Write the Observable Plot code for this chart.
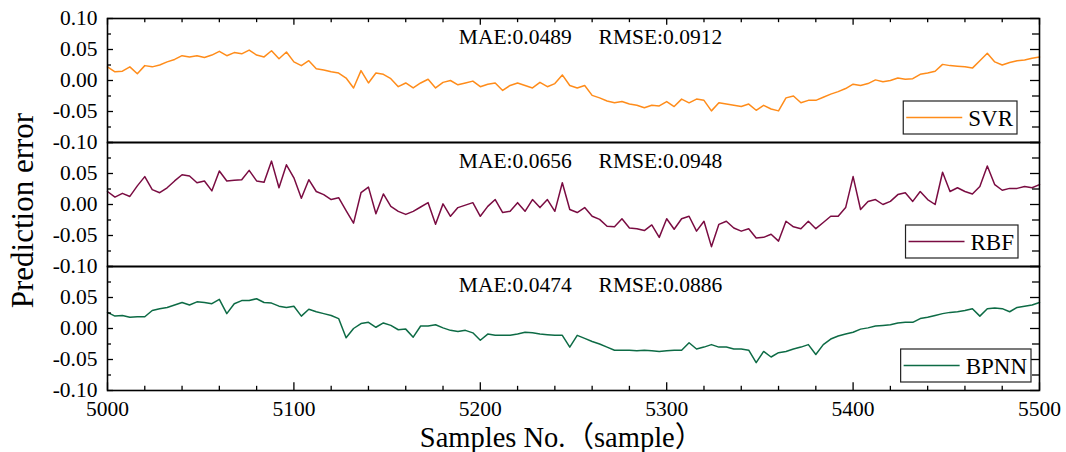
<!DOCTYPE html>
<html><head><meta charset="utf-8">
<script src="https://cdn.jsdelivr.net/npm/d3@7"></script>
<script src="https://cdn.jsdelivr.net/npm/@observablehq/plot@0.6"></script>
<style>
html,body{margin:0;padding:0;background:#fff;}
#chart{width:1066px;height:452px;overflow:hidden;}
</style></head><body><div id="chart"></div>
<script>
// ---------- data ----------
const models = ["SVR", "RBF", "BPNN"];
const colors = ["#ff8c1a", "#7a0c42", "#0d6b45"];
const maeValues = ["0.0489", "0.0656", "0.0474"];
const rmseValues = ["0.0912", "0.0948", "0.0886"];
const sampleStart = 5000;
const sampleStep = 4;

const svrErrors = [
  0.022, 0.014, 0.015, 0.022, 0.011, 0.024, 0.022, 0.025, 0.030, 0.034,
  0.040, 0.038, 0.040, 0.037, 0.041, 0.047, 0.040, 0.045, 0.043, 0.049,
  0.041, 0.038, 0.048, 0.035, 0.046, 0.030, 0.024, 0.032, 0.019, 0.017,
  0.014, 0.012, 0.004, -0.012, 0.016, -0.004, 0.012, 0.010, 0.003, -0.010,
  -0.004, -0.012, -0.004, 0.002, -0.012, -0.003, 0.000, -0.007, -0.004, -0.001,
  -0.010, -0.006, -0.004, -0.016, -0.008, -0.004, -0.008, -0.012, -0.003, -0.010,
  -0.005, 0.009, -0.008, -0.012, -0.008, -0.024, -0.028, -0.033, -0.036, -0.034,
  -0.038, -0.040, -0.044, -0.040, -0.041, -0.034, -0.042, -0.030, -0.036, -0.030,
  -0.032, -0.049, -0.036, -0.038, -0.040, -0.042, -0.038, -0.048, -0.040, -0.046,
  -0.049, -0.028, -0.025, -0.036, -0.032, -0.032, -0.027, -0.022, -0.018, -0.013,
  -0.006, -0.008, -0.005, 0.001, -0.002, 0.000, 0.004, 0.002, 0.003, 0.010,
  0.012, 0.015, 0.026, 0.024, 0.023, 0.022, 0.020, 0.032, 0.044, 0.030,
  0.025, 0.029, 0.032, 0.033, 0.036, 0.038
];
const rbfErrors = [
  0.021, 0.012, 0.018, 0.013, 0.030, 0.045, 0.024, 0.019, 0.027, 0.038,
  0.048, 0.046, 0.035, 0.038, 0.022, 0.054, 0.038, 0.039, 0.040, 0.055,
  0.038, 0.036, 0.070, 0.027, 0.064, 0.043, 0.010, 0.040, 0.021, 0.016,
  0.008, 0.011, -0.010, -0.030, 0.019, 0.028, -0.015, 0.017, -0.003, -0.011,
  -0.016, -0.011, -0.004, 0.003, -0.032, 0.001, -0.019, -0.005, -0.001, 0.003,
  -0.019, -0.003, 0.008, -0.013, -0.011, 0.003, -0.011, 0.008, -0.005, 0.008,
  -0.011, 0.035, -0.008, -0.013, -0.005, -0.019, -0.024, -0.035, -0.036, -0.023,
  -0.038, -0.039, -0.042, -0.033, -0.053, -0.023, -0.040, -0.023, -0.019, -0.043,
  -0.027, -0.068, -0.032, -0.027, -0.038, -0.043, -0.039, -0.054, -0.053, -0.048,
  -0.059, -0.027, -0.036, -0.039, -0.027, -0.039, -0.029, -0.019, -0.019, -0.005,
  0.045, -0.008, 0.005, 0.008, 0.000, 0.005, 0.016, 0.019, 0.005, 0.021,
  0.008, 0.000, 0.052, 0.021, 0.027, 0.021, 0.017, 0.029, 0.062, 0.032,
  0.023, 0.026, 0.026, 0.029, 0.027, 0.032
];
const bpnnErrors = [
  0.026, 0.020, 0.021, 0.018, 0.019, 0.019, 0.029, 0.032, 0.034, 0.038,
  0.042, 0.038, 0.043, 0.042, 0.040, 0.047, 0.024, 0.040, 0.045, 0.045,
  0.048, 0.042, 0.041, 0.036, 0.034, 0.036, 0.020, 0.031, 0.027, 0.024,
  0.021, 0.016, -0.015, 0.000, 0.008, 0.010, 0.002, 0.009, 0.005, -0.002,
  -0.001, -0.014, 0.004, 0.004, 0.006, 0.001, -0.003, -0.005, -0.003, -0.007,
  -0.019, -0.009, -0.011, -0.011, -0.011, -0.009, -0.006, -0.007, -0.009, -0.010,
  -0.011, -0.011, -0.030, -0.011, -0.016, -0.021, -0.025, -0.030, -0.035, -0.035,
  -0.035, -0.036, -0.035, -0.036, -0.037, -0.036, -0.035, -0.035, -0.023, -0.033,
  -0.030, -0.026, -0.030, -0.030, -0.033, -0.033, -0.035, -0.055, -0.037, -0.046,
  -0.039, -0.037, -0.033, -0.030, -0.026, -0.042, -0.026, -0.017, -0.012, -0.009,
  -0.006, -0.001, 0.001, 0.004, 0.005, 0.006, 0.009, 0.010, 0.010, 0.016,
  0.018, 0.021, 0.024, 0.026, 0.027, 0.029, 0.032, 0.020, 0.032, 0.033,
  0.032, 0.027, 0.034, 0.036, 0.038, 0.042
];

const xMajorTicks = [5000, 5100, 5200, 5300, 5400, 5500];
const xMinorTicks = [5020, 5040, 5060, 5080, 5120, 5140, 5160, 5180, 5220, 5240, 5260, 5280,
                     5320, 5340, 5360, 5380, 5420, 5440, 5460, 5480];
const yMajorTicks = [-0.1, -0.05, 0, 0.05, 0.1];
const yMinorTicks = [-0.075, -0.025, 0.025, 0.075];
const yLabelTicks = [-0.1, -0.05, 0, 0.05];
const yTopLabelTicks = [0.1];
const yTitle = "Prediction error";
const xTitle = "Samples No.（sample）";

// ---------- tables ----------
const series = [svrErrors, rbfErrors, bpnnErrors];
const rows = models.flatMap((m, k) =>
  series[k].map((v, i) => ({model: m, sample: sampleStart + i * sampleStep, value: v})));
const stats = models.map((m, k) => ({model: m, mae: maeValues[k], rmse: rmseValues[k]}));

// ---------- layout ----------
const W = 1066, H = 452, mL = 107, mR = 27, mT = 17, mB = 62;
const frameW = W - mL - mR;
const facetH = (H - mT - mB) / models.length;
const font = "'Liberation Serif','Times New Roman','Noto Sans CJK SC',serif";
const tk = {stroke: "#000", strokeWidth: 1.3};

const plot = Plot.plot({
  width: W, height: H,
  marginLeft: mL, marginRight: mR, marginTop: mT, marginBottom: mB,
  style: {fontFamily: font, fontSize: "21px", color: "#000", background: "#fff"},
  x: {domain: [5000, 5500], label: null},
  y: {domain: [-0.1, 0.1], label: null},
  fy: {domain: models, padding: 0, axis: null, label: null},
  color: {domain: models, range: colors},
  marks: [
    Plot.line(rows, {x: "sample", y: "value", fy: "model", stroke: "model", strokeWidth: 1.5}),
    Plot.frame({stroke: "#000", strokeWidth: 1.6}),
    Plot.tickY(yMajorTicks, {y: d => d, insetRight: frameW - 6, ...tk}),
    Plot.tickY(yMinorTicks, {y: d => d, insetRight: frameW - 4, ...tk}),
    Plot.tickY(yMajorTicks, {y: d => d, insetLeft: frameW - 9, ...tk}),
    Plot.tickY(yMinorTicks, {y: d => d, insetLeft: frameW - 7, ...tk}),
    Plot.tickX(xMajorTicks, {x: d => d, fy: () => models[2], insetTop: facetH - 8, ...tk}),
    Plot.tickX(xMinorTicks, {x: d => d, fy: () => models[2], insetTop: facetH - 4.5, ...tk}),
    Plot.tickX(xMajorTicks, {x: d => d, fy: () => models[0], insetBottom: facetH - 7, ...tk}),
    Plot.tickX(xMinorTicks, {x: d => d, fy: () => models[0], insetBottom: facetH - 4.5, ...tk}),
    Plot.axisY(yLabelTicks, {anchor: "left", tickSize: 0, tickPadding: 10, tickFormat: d => d.toFixed(2), fontSize: 21.5, label: null}),
    Plot.text(yTopLabelTicks, {y: d => d, fy: () => models[0], frameAnchor: "left", dx: -10, textAnchor: "end", lineAnchor: "middle", text: d => d.toFixed(2), fontSize: 21.5, fill: "#000"}),
    Plot.axisX(xMajorTicks, {anchor: "bottom", tickSize: 0, tickPadding: 10, tickFormat: d => String(d), fontSize: 21.5, label: null}),
    Plot.text(stats, {fy: "model", text: d => `MAE:${d.mae}\u00a0\u00a0\u00a0\u00a0\u00a0RMSE:${d.rmse}`,
      frameAnchor: "top", textAnchor: "middle", lineAnchor: "middle", dx: 17, dy: 19, fontSize: 21.5, fill: "#000"}),
    Plot.text([yTitle], {fy: () => models[1], frameAnchor: "left", textAnchor: "middle", lineAnchor: "middle",
      rotate: -90, dx: -84, dy: 6, fontSize: 31, fill: "#000"}),
    Plot.text([xTitle], {fy: () => models[2], frameAnchor: "bottom", textAnchor: "middle", lineAnchor: "middle",
      dy: 47, dx: -12, fontSize: 28.5, fill: "#000"})
  ]
});
document.getElementById("chart").appendChild(plot);

// ---------- legends (one per panel, bottom-right) ----------
const fy = plot.scale("fy");
const xs = plot.scale("x");
const svg = d3.select(plot);
const rightGaps = [22, 21, 8];
const boxH = 33, bottomGap = 8, lineLen = 56;
models.forEach((m, k) => {
  const top = fy.apply(m);
  const bottom = top + fy.bandwidth;
  const g = svg.append("g");
  const rect = g.append("rect");
  const t = g.append("text").text(m)
    .attr("font-family", font).attr("font-size", 23).attr("fill", "#000")
    .attr("text-anchor", "start");
  const tw = t.node().getComputedTextLength();
  const boxW = 3 + lineLen + 6 + tw + 4;
  const right = xs.range[1] - rightGaps[k];
  const left = right - boxW;
  const y0 = bottom - bottomGap - boxH;
  rect.attr("x", left).attr("y", y0).attr("width", boxW).attr("height", boxH)
    .attr("fill", "#fff").attr("stroke", "#222").attr("stroke-width", 1.2);
  g.append("line").attr("x1", left + 3).attr("x2", left + 3 + lineLen)
    .attr("y1", y0 + boxH / 2).attr("y2", y0 + boxH / 2)
    .attr("stroke", colors[k]).attr("stroke-width", 1.6);
  t.attr("x", left + 3 + lineLen + 6).attr("y", y0 + boxH / 2).attr("dy", "0.35em");
  rect.lower();
});
</script>
</body></html>
